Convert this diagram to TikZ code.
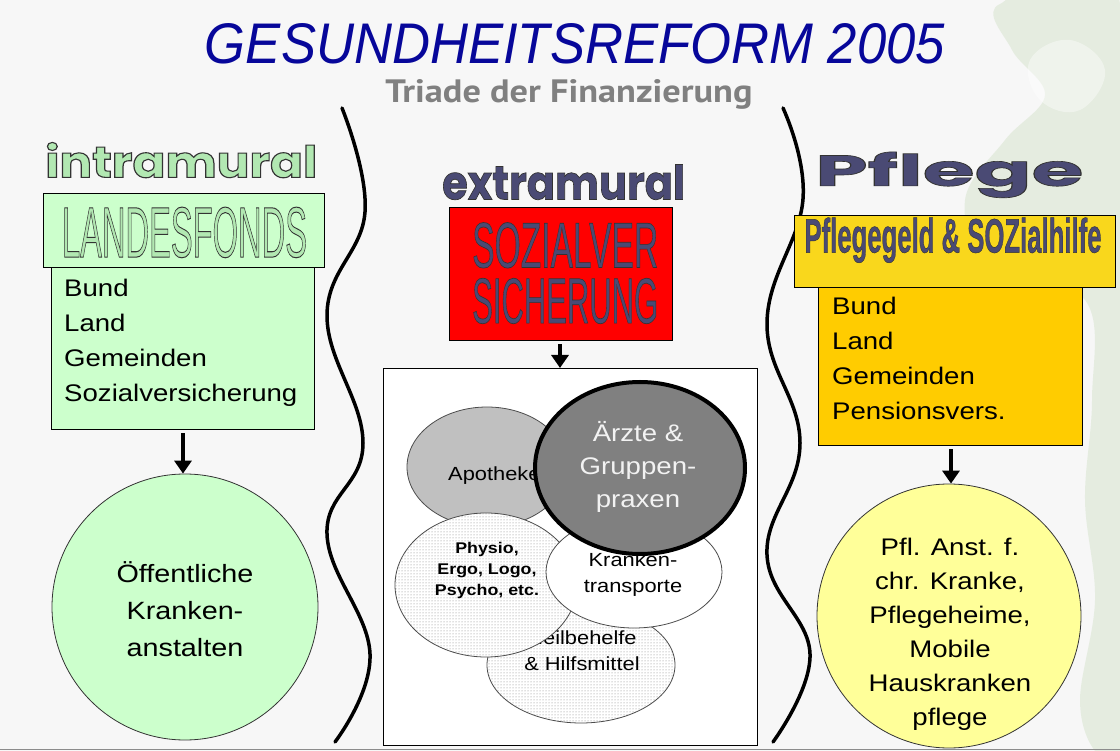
\documentclass[tikz,border=0pt]{standalone}
\usepackage{fontspec}
\setmainfont{Liberation Sans}[FakeStretch=1.15]
\newfontfamily\plainsans{Liberation Sans}
\newfontfamily\geo{Poppins}
\newfontfamily\tri{PT Sans}
\usetikzlibrary{shapes.geometric,arrows.meta,patterns}
\definecolor{bg}{HTML}{F7F7F7}
\definecolor{tree}{HTML}{E1EADB}
\definecolor{lgreen}{HTML}{CCFFCC}
\definecolor{titleblue}{HTML}{07079A}
\definecolor{subgray}{HTML}{808080}
\definecolor{slate}{HTML}{4A4A74}
\definecolor{outgreen}{HTML}{B2E8B2}
\definecolor{redbox}{HTML}{FF0000}
\definecolor{goldhead}{HTML}{F9D71C}
\definecolor{goldbody}{HTML}{FFCC00}
\definecolor{paley}{HTML}{FFFF99}
\definecolor{apogray}{HTML}{C0C0C0}
\definecolor{drgray}{HTML}{808080}
\definecolor{ltext}{HTML}{F2F2F2}
% filled text with a thin dark outline (text render mode 2)
\newcommand{\outltext}[3]{{\color{#1}\special{pdf:literal direct 2 Tr #2 w 0.2 0.2 0.2 RG}#3\special{pdf:literal direct 0 Tr}}}
\tikzset{
  box/.style={draw=black, line width=1.2pt, inner sep=0pt},
  plain/.style={inner sep=0pt, font=\fontsize{24}{35}\selectfont, align=left, text=black},
  circtext/.style={inner sep=0pt, align=center, text=black},
  bigarrow/.style={line width=4pt, -{Triangle[width=17pt,length=13pt]}, shorten <=3pt},
  wave/.style={line width=3.5pt, line cap=round},
  ell/.style={ellipse, draw=black!70, line width=0.8pt, inner sep=0pt},
  dotfill/.style={preaction={fill=white}, pattern=dots, pattern color=black!50},
}
\begin{document}
\begin{tikzpicture}[x=1pt,y=-1pt]
\useasboundingbox (0,0) rectangle (1120,751);
\fill[bg] (0,0) rectangle (1120,751);
% pale tree texture at the right
\fill[tree, opacity=0.8] plot[smooth cycle, tension=0.6] coordinates {
  (1000,4) (1012,50) (1045,95) (1005,140) (965,200) (990,270) (1085,300)
  (1092,400) (1085,500) (1095,600) (1080,700) (1095,751) (1120,751) (1120,4)};
\fill[white, opacity=0.4] plot[smooth cycle, tension=0.7] coordinates {
  (1030,60) (1070,40) (1105,70) (1080,110) (1040,100)};
\draw[black!45, line width=1pt] (0,749.5) -- (1120,749.5);

% title
\node[anchor=south, inner sep=0pt] (title) at (575,64)
  {\resizebox{740pt}{40pt}{\plainsans\color{titleblue}\itshape GESUNDHEITSREFORM 2005}};
\node[anchor=south, inner sep=0pt] (sub) at (569,110)
  {\resizebox{367pt}{23pt}{\tri\bfseries\color{subgray}Triade der Finanzierung}};

% wavy dividers
\draw[wave] plot[smooth, tension=0.7] coordinates {(342,108) (365,212) (327,315) (363,443) (327,534) (370,654) (335,742)};
\draw[wave] plot[smooth, tension=0.7] coordinates {(783,108) (803,199) (767,323) (800,443) (767,555) (810,654) (773,742)};

% ---------- left column ----------
\node[anchor=south west, inner sep=0pt] (intra) at (45,178)
  {\resizebox{272pt}{35pt}{\geo\bfseries\outltext{outgreen}{0.25}{intramural}}};
\node[box, fill=lgreen, anchor=north west, minimum width=263, minimum height=162] (lbody) at (51,267) {};
\node[box, fill=lgreen, anchor=north west, minimum width=281, minimum height=74] (lhead) at (43,193) {};
\node[anchor=south, inner sep=0pt] (lheadtxt) at (184.5,258)
  {\resizebox{245pt}{50pt}{\plainsans\outltext{outgreen}{0.14}{LANDESFONDS}}};
\node[plain, anchor=north west] (ltext) at (64,279) {Bund\\Land\\Gemeinden\\Sozialversicherung};
\node[circle, draw=black!80, line width=0.8pt, fill=lgreen, minimum size=266, inner sep=0pt] (lcirc) at (185,607) {};
\node[circtext, font=\fontsize{25}{37}\selectfont] (lcirctxt) at (185,609) {Öffentliche\\Kranken-\\anstalten};
\draw[bigarrow] (lbody.south -| 183,0) -- (lcirc.north -| 183,0);

% ---------- middle column ----------
\node[anchor=south west, inner sep=0pt] (extra) at (442,200)
  {\resizebox{243pt}{35pt}{\geo\bfseries\outltext{slate}{0.15}{extramural}}};
\node[box, fill=redbox, anchor=north west, minimum width=223, minimum height=133] (mhead) at (449,207) {};
\node[anchor=south west, inner sep=0pt] (mhtxt) at (472,324)
  {\vbox{\hbox{\resizebox{186pt}{45pt}{\plainsans\outltext{slate}{0.1}{SOZIALVER}}}\kern9pt
         \hbox{\resizebox{186pt}{45pt}{\plainsans\outltext{slate}{0.1}{SICHERUNG}}}}};
\node[draw=black, line width=1pt, fill=white, anchor=north west, minimum width=374, minimum height=377, inner sep=0pt] (mrect) at (383,368) {};
\draw[bigarrow] (mhead.south -| 560,0) -- (mrect.north -| 560,0);

% overlapping ellipses
\node[ell, fill=apogray, minimum width=160, minimum height=120] (apo) at (487,467) {};
\node[anchor=base west, inner sep=0pt, font=\fontsize{19}{23}\selectfont] (apotxt) at (448,480) {Apotheken};
\node[ell, dotfill, minimum width=188, minimum height=116] (heil) at (581,665) {};
\node[circtext, font=\fontsize{19}{26}\selectfont] (heiltxt) at (582,651) {Heilbehelfe\\\& Hilfsmittel};
\node[ell, dotfill, minimum width=182, minimum height=144] (phys) at (486,585) {};
\node[circtext, font=\bfseries\fontsize{15.5}{21}\selectfont] (phystxt) at (487,570) {Physio,\\Ergo, Logo,\\Psycho, etc.};
\node[ell, fill=white, minimum width=176, minimum height=112] (kran) at (634,572) {};
\node[circtext, font=\fontsize{19}{26}\selectfont] (krantxt) at (633,575) {Kranken-\\transporte};
\node[ellipse, draw=black, line width=4pt, fill=drgray, minimum width=210, minimum height=172, inner sep=0pt] (arzt) at (640,468) {};
\node[circtext, text=ltext, font=\fontsize{24}{33}\selectfont] (arzttxt) at (638,467) {Ärzte \&\\Gruppen-\\praxen};

% ---------- right column ----------
\node[anchor=south west, inner sep=0pt] (pfl) at (815,198)
  {\resizebox{268pt}{34pt}{\geo\bfseries\outltext{slate}{0.15}{Pflege}}};
\node[box, fill=goldbody, anchor=north west, minimum width=264, minimum height=158] (rbody) at (818,287) {};
\node[box, fill=goldhead, anchor=north west, minimum width=321, minimum height=72] (rhead) at (794,215) {};
\node[anchor=south, inner sep=0pt] (rheadtxt) at (953,263)
  {\resizebox{297pt}{35pt}{\plainsans\bfseries\outltext{slate}{0.1}{Pflegegeld \& SOZialhilfe}}};
\node[plain, anchor=north west] (rtext) at (832,297) {Bund\\Land\\Gemeinden\\Pensionsvers.};
\node[circle, draw=black!80, line width=0.8pt, fill=paley, minimum size=264, inner sep=0pt] (rcirc) at (949,616) {};
\node[circtext, font=\fontsize{24}{34}\selectfont] (rcirctxt) at (950,634) {Pfl. Anst. f.\\chr. Kranke,\\Pflegeheime,\\Mobile\\Hauskranken\\pflege};
\draw[bigarrow] (rbody.south -| 951,0) -- (rcirc.north -| 951,0);
\end{tikzpicture}
\end{document}
